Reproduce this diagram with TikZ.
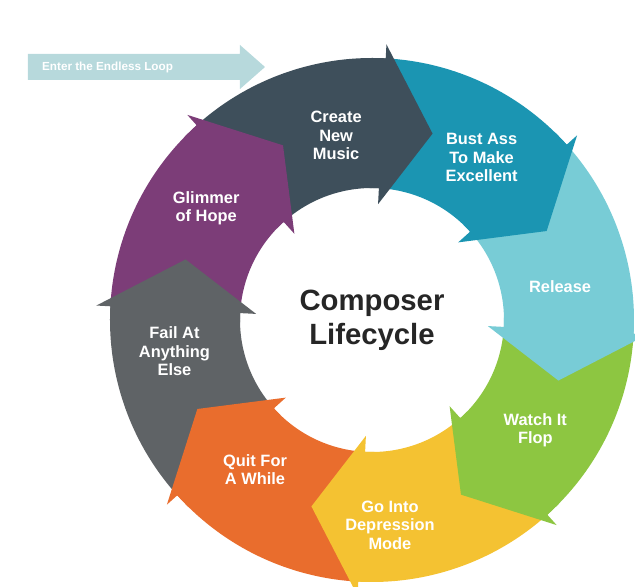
\documentclass[tikz,border=0pt]{standalone}
\usepackage{fontspec}
\setmainfont{Liberation Sans}
\definecolor{cCreate}{HTML}{3E4F5B}
\definecolor{cBust}{HTML}{1B95B2}
\definecolor{cRelease}{HTML}{78CCD6}
\definecolor{cFlop}{HTML}{8DC641}
\definecolor{cDepress}{HTML}{F4C232}
\definecolor{cQuit}{HTML}{E96D2D}
\definecolor{cFail}{HTML}{5F6366}
\definecolor{cHope}{HTML}{7C3D78}
\definecolor{cEnter}{HTML}{B7D9DC}
\begin{document}
\begin{tikzpicture}[scale=.03,
  seglabel/.style={text=white,font=\fontsize{14}{16}\selectfont\bfseries,align=center}]
\useasboundingbox (-372,-267) rectangle (263,320);

% ring bodies
\foreach \k/\col in {0/cCreate,1/cBust,2/cRelease,3/cFlop,4/cDepress,5/cQuit,6/cFail,7/cHope}{
  \pgfmathsetmacro\ab{87-45*\k}
  \pgfmathsetmacro\aa{\ab+45}
  \fill[\col] (\aa:132) arc[start angle=\aa,end angle=\ab,radius=132]
    -- (\ab:262) arc[start angle=\ab,end angle=\aa,radius=262] -- cycle;
}
% arrow heads, each with a bit of its own body
\foreach \k/\col in {0/cCreate,1/cBust,2/cRelease,3/cFlop,4/cDepress,5/cQuit,6/cFail,7/cHope}{
  \pgfmathsetmacro\ab{87-45*\k}
  \pgfmathsetmacro\aa{\ab+4}
  \pgfmathsetmacro\at{\ab-15}
  \fill[\col] (\aa:132) arc[start angle=\aa,end angle=\ab,radius=132]
    -- (\ab:116) -- (\at:196) -- (\ab:276) -- (\ab:262)
    arc[start angle=\ab,end angle=\aa,radius=262] -- cycle;
}

\node[seglabel] (create) at (101:188) {Create\\New\\Music};
\node[seglabel] (bust) at (56:196) {Bust Ass\\To Make\\Excellent};
\node[seglabel] (release) at (10:191) {Release};
\node[seglabel] (flop) at (-34:197) {Watch It\\Flop};
\node[seglabel] (depress) at (-85:206) {Go Into\\Depression\\Mode};
\node[seglabel] (quit) at (-128:190) {Quit For\\A While};
\node[seglabel] (fail) at (189:200) {Fail At\\Anything\\Else};
\node[seglabel] (hope) at (146:200) {Glimmer\\of Hope};

\node[font=\fontsize{25}{29}\selectfont\bfseries,text=black!85,align=center] (title) at (0,0) {Composer\\Lifecycle};

% entry arrow
\fill[cEnter] (-344,240) -- (-132,240) -- (-132,231) -- (-107,253) -- (-132,275)
  -- (-132,266) -- (-344,266) -- cycle;
\node[text=white,font=\fontsize{10}{12}\selectfont\bfseries,anchor=west] (enter) at (-334,253) {Enter the Endless Loop};
\end{tikzpicture}
\end{document}
